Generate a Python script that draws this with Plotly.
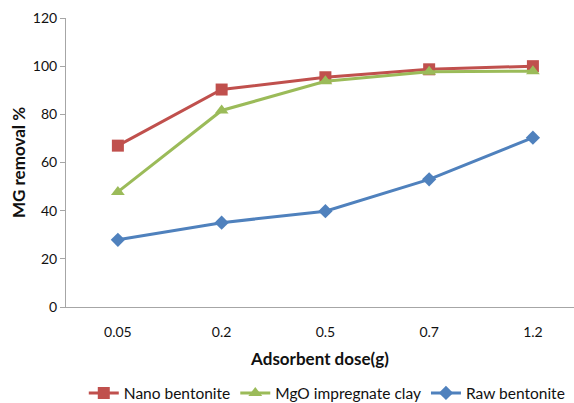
import plotly.graph_objects as go

categories = ["0.05", "0.2", "0.5", "0.7", "1.2"]
nano_bentonite = [67.0, 90.3, 95.4, 98.7, 100.0]
mgo_clay = [47.8, 81.6, 93.7, 97.7, 97.9]
raw_bentonite = [27.9, 35.0, 39.8, 53.0, 70.3]
y_ticks = [0, 20, 40, 60, 80, 100, 120]

FONT = "Lato, Open Sans, sans-serif"

fig = go.Figure()
series = [
    ("Nano bentonite", nano_bentonite, "#C0504D", "square", 12),
    ("MgO impregnate clay", mgo_clay, "#9BBB59", "triangle-up", 12),
    ("Raw bentonite", raw_bentonite, "#4F81BD", "diamond", 11),
]
for name, vals, color, sym, sz in series:
    fig.add_trace(go.Scatter(
        x=list(range(len(categories))), y=vals, name=name, mode="lines+markers",
        line=dict(color=color, width=3),
        marker=dict(symbol=sym, size=sz, color=color),
    ))

fig.update_layout(
    width=574, height=403,
    margin=dict(l=66, r=0, t=18, b=96, autoexpand=False),
    plot_bgcolor="white", paper_bgcolor="white",
    font=dict(family=FONT, size=14, color="#111"),
    showlegend=True,
    legend=dict(orientation="h", x=0.035, xanchor="left", y=-0.24, yanchor="top",
                font=dict(size=15.5), itemwidth=30, traceorder="normal",
                tracegroupgap=0),
)
fig.update_xaxes(
    range=[-0.5, 4.396], tickmode="array",
    tickvals=list(range(len(categories))), ticktext=categories,
    showgrid=False, zeroline=False, showline=True, linecolor="#A6A6A6", linewidth=1,
    ticks="", ticklabelstandoff=12,
    title=dict(text="<b>Adsorbent dose(g)</b>", font=dict(size=17, family=FONT), standoff=14),
)
fig.update_yaxes(
    range=[0, 120], tickvals=y_ticks, showgrid=False, zeroline=False,
    showline=True, linecolor="#A6A6A6", linewidth=1,
    ticks="outside", ticklen=5, tickcolor="#A6A6A6",
    title=dict(text="<b>MG removal %</b>", font=dict(size=17, family=FONT), standoff=2),
)

fig.write_html("out.html")
